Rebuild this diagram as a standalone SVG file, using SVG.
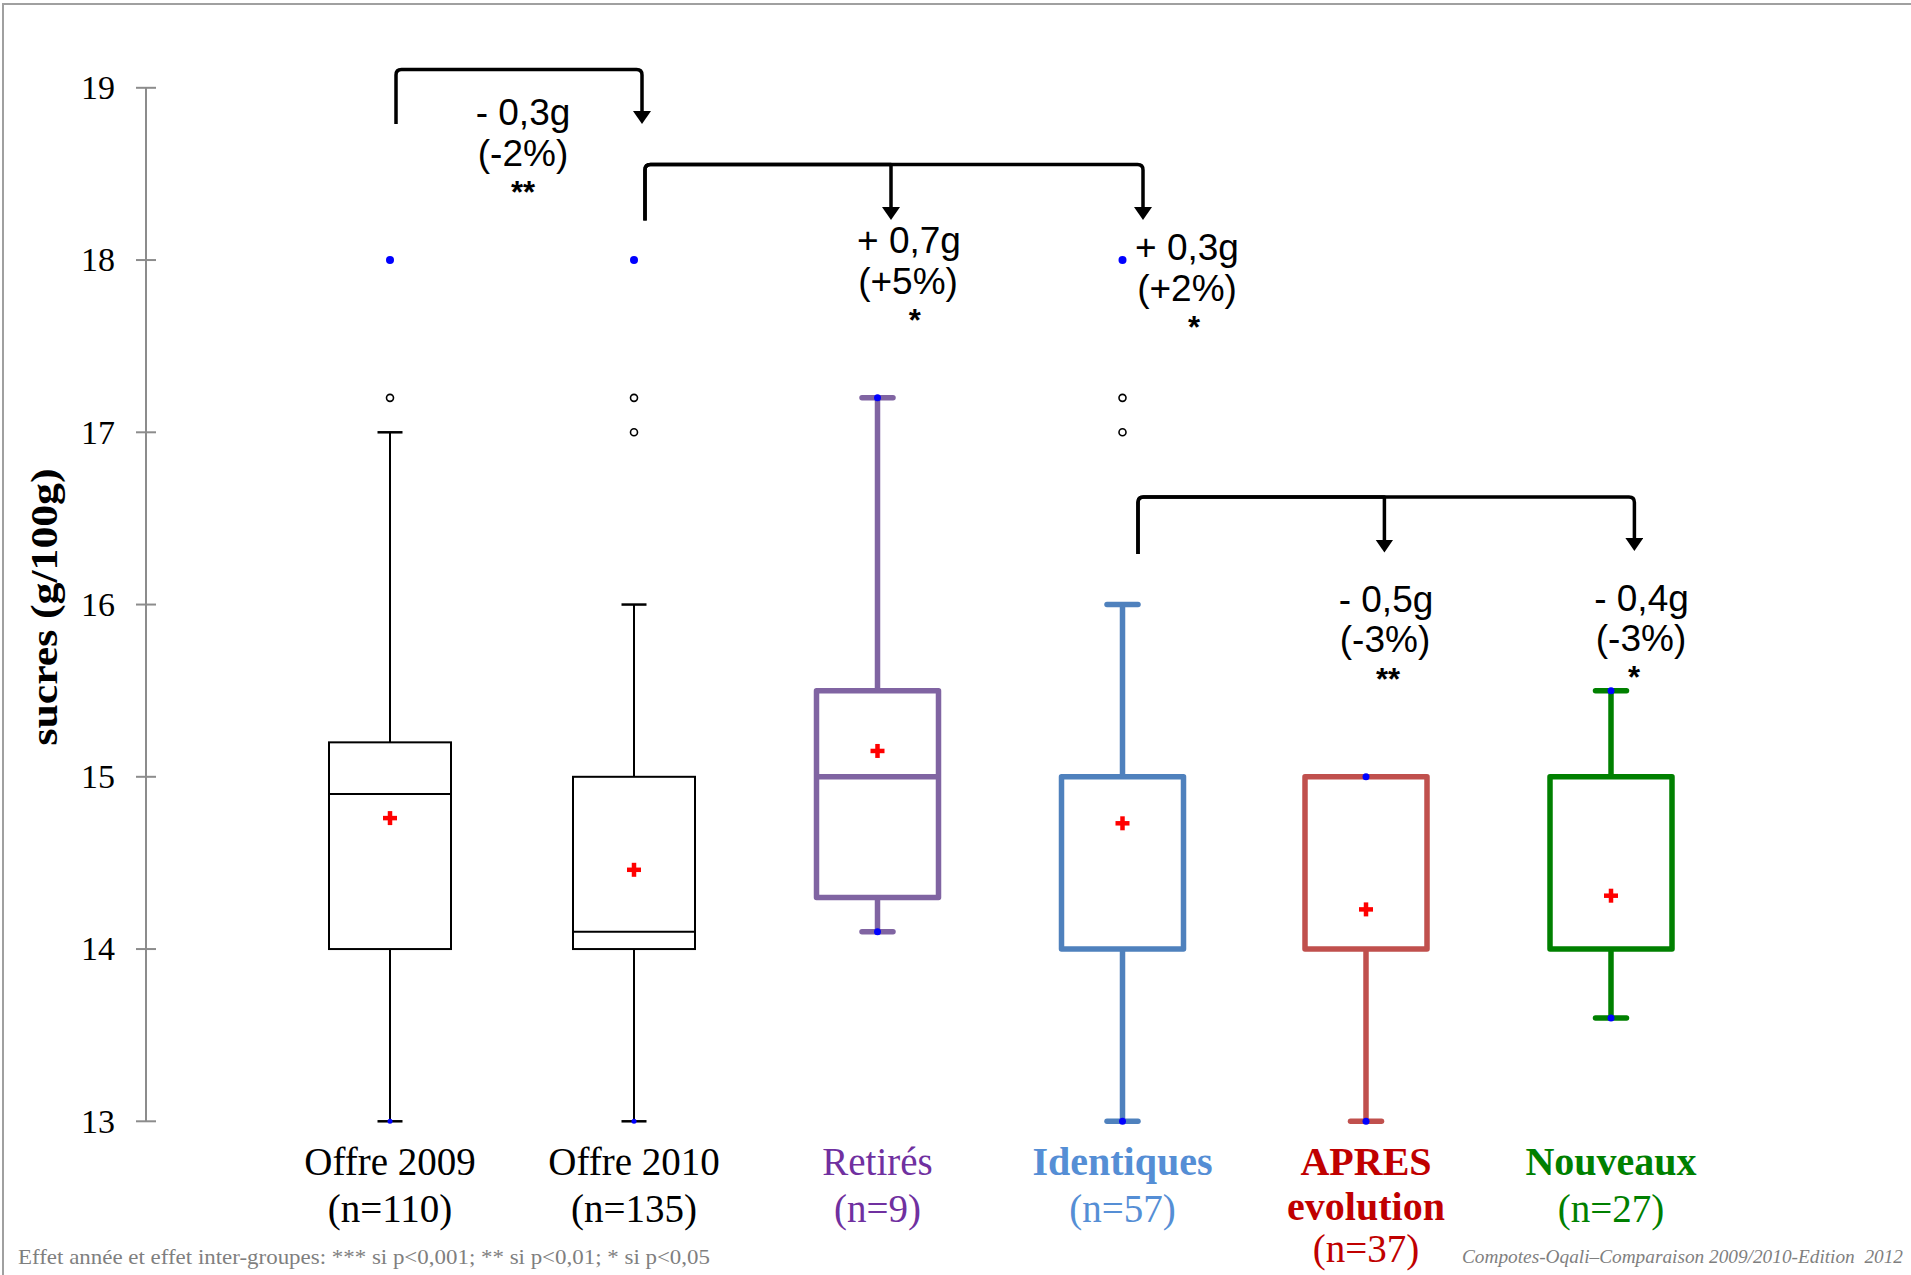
<svg xmlns="http://www.w3.org/2000/svg" width="1911" height="1275" viewBox="0 0 1911 1275">
<style>
.tick{font-family:"Liberation Serif","Times New Roman",serif;font-size:34px;fill:#000;text-anchor:end}
.cat{font-family:"Liberation Serif","Times New Roman",serif;font-size:39px;text-anchor:middle}
.catb{font-family:"Liberation Serif","Times New Roman",serif;font-size:40px;font-weight:bold;text-anchor:middle}
.ann{font-family:"Liberation Sans",Arial,sans-serif;font-size:37px;fill:#000;text-anchor:middle}
.ast{font-family:"Liberation Sans",Arial,sans-serif;font-size:31px;font-weight:bold;fill:#000;text-anchor:middle}
.blk rect,.blk line{stroke:#000;stroke-width:2;fill:none}
.col rect,.col line{stroke-width:5.5;fill:none;stroke-linejoin:round}
.col line.cap{stroke-linecap:round}
.mean{stroke:#FF0000;stroke-width:4.5}
.bd{fill:#0000FF}
.oc{fill:#fff;stroke:#000;stroke-width:1.6}
.conn path{fill:none;stroke:#000;stroke-width:3.5;stroke-linejoin:round}
</style>
<defs>
<marker id="ah" markerUnits="userSpaceOnUse" markerWidth="14" markerHeight="18" refX="4" refY="9" orient="auto" viewBox="0 0 14 18">
<path d="M0,0 L13,9 L0,18 z" fill="#000"/>
</marker>
<g id="plus"><line class="mean" x1="-7" y1="0" x2="7" y2="0"/><line class="mean" x1="0" y1="-7" x2="0" y2="7"/></g>
</defs>
<rect width="1911" height="1275" fill="#fff"/>
<g id="frame" stroke="#A0A0A0" stroke-width="2" fill="none">
<path d="M3,1275 V4 H1911"/>
</g>
<g id="axis">
<line x1="146" y1="87.8" x2="146" y2="1121.3" stroke="#8C8C8C" stroke-width="2"/>
<g stroke="#8C8C8C" stroke-width="2">
<line x1="136" y1="87.8" x2="156" y2="87.8"/>
<line x1="136" y1="260.05" x2="156" y2="260.05"/>
<line x1="136" y1="432.3" x2="156" y2="432.3"/>
<line x1="136" y1="604.55" x2="156" y2="604.55"/>
<line x1="136" y1="776.8" x2="156" y2="776.8"/>
<line x1="136" y1="949.05" x2="156" y2="949.05"/>
<line x1="136" y1="1121.3" x2="156" y2="1121.3"/>
</g>
<text class="tick" x="115" y="99">19</text>
<text class="tick" x="115" y="271">18</text>
<text class="tick" x="115" y="443.5">17</text>
<text class="tick" x="115" y="615.5">16</text>
<text class="tick" x="115" y="788">15</text>
<text class="tick" x="115" y="960">14</text>
<text class="tick" x="115" y="1132.5">13</text>
<text x="0" y="0" transform="translate(57,607) rotate(-90)" font-family="Liberation Serif, Times New Roman, serif" font-size="38" font-weight="bold" text-anchor="middle" textLength="277" lengthAdjust="spacingAndGlyphs">sucres (g/100g)</text>
</g>

<g id="box-offre2009" class="blk">
<line x1="390" y1="742.35" x2="390" y2="432.3"/>
<line x1="377.5" y1="432.3" x2="402.5" y2="432.3" style="stroke-width:2.5"/>
<line x1="390" y1="949.05" x2="390" y2="1121.3"/>
<line x1="377.5" y1="1121.3" x2="402.5" y2="1121.3" style="stroke-width:2.5"/>
<rect x="329" y="742.35" width="122" height="206.7"/>
<line x1="329" y1="794" x2="451" y2="794"/>
<use href="#plus" x="390" y="818.1"/>
<circle class="oc" cx="390" cy="397.85" r="3.5"/>
<circle class="bd" cx="390" cy="260.05" r="4"/>
<circle class="bd" cx="390" cy="1121.3" r="2.5"/>
</g>

<g id="box-offre2010" class="blk">
<line x1="634" y1="776.8" x2="634" y2="604.55"/>
<line x1="621.5" y1="604.55" x2="646.5" y2="604.55" style="stroke-width:2.5"/>
<line x1="634" y1="949.05" x2="634" y2="1121.3"/>
<line x1="621.5" y1="1121.3" x2="646.5" y2="1121.3" style="stroke-width:2.5"/>
<rect x="573" y="776.8" width="122" height="172.25"/>
<line x1="573" y1="931.8" x2="695" y2="931.8"/>
<use href="#plus" x="634" y="869.8"/>
<circle class="oc" cx="634" cy="397.85" r="3.5"/>
<circle class="oc" cx="634" cy="432.3" r="3.5"/>
<circle class="bd" cx="634" cy="260.05" r="4"/>
<circle class="bd" cx="634" cy="1121.3" r="2.5"/>
</g>

<g id="box-retires" class="col">
<line x1="877.5" y1="690.7" x2="877.5" y2="397.85" stroke="#8064A2"/>
<line class="cap" x1="862" y1="397.85" x2="893" y2="397.85" stroke="#8064A2"/>
<line x1="877.5" y1="897.4" x2="877.5" y2="931.8" stroke="#8064A2"/>
<line class="cap" x1="862" y1="931.8" x2="893" y2="931.8" stroke="#8064A2"/>
<rect x="816.5" y="690.7" width="122" height="206.7" stroke="#8064A2"/>
<line x1="816.5" y1="776.8" x2="938.5" y2="776.8" stroke="#8064A2"/>
<use href="#plus" x="877.5" y="750.96"/>
<circle class="bd" cx="877.5" cy="397.85" r="3.5"/>
<circle class="bd" cx="877.5" cy="931.8" r="3.5"/>
</g>

<g id="box-identiques" class="col">
<line x1="1122.5" y1="776.8" x2="1122.5" y2="604.55" stroke="#4F81BD"/>
<line class="cap" x1="1107" y1="604.55" x2="1138" y2="604.55" stroke="#4F81BD"/>
<line x1="1122.5" y1="949.05" x2="1122.5" y2="1121.3" stroke="#4F81BD"/>
<line class="cap" x1="1107" y1="1121.3" x2="1138" y2="1121.3" stroke="#4F81BD"/>
<rect x="1061.5" y="776.8" width="122" height="172.25" stroke="#4F81BD"/>
<use href="#plus" x="1122.5" y="823.3"/>
<circle class="oc" cx="1122.5" cy="397.85" r="3.5"/>
<circle class="oc" cx="1122.5" cy="432.3" r="3.5"/>
<circle class="bd" cx="1122.5" cy="260.05" r="4"/>
<circle class="bd" cx="1122.5" cy="1121.3" r="3.5"/>
</g>

<g id="box-apres" class="col">
<line x1="1366" y1="949.05" x2="1366" y2="1121.3" stroke="#C0504D"/>
<line class="cap" x1="1350.5" y1="1121.3" x2="1381.5" y2="1121.3" stroke="#C0504D"/>
<rect x="1305" y="776.8" width="122" height="172.25" stroke="#C0504D"/>
<use href="#plus" x="1366" y="909.4"/>
<circle class="bd" cx="1366" cy="776.8" r="3.5"/>
<circle class="bd" cx="1366" cy="1121.3" r="3.5"/>
</g>

<g id="box-nouveaux" class="col">
<line x1="1611" y1="776.8" x2="1611" y2="690.7" stroke="#008000"/>
<line class="cap" x1="1595.5" y1="690.7" x2="1626.5" y2="690.7" stroke="#008000"/>
<line x1="1611" y1="949.05" x2="1611" y2="1017.95" stroke="#008000"/>
<line class="cap" x1="1595.5" y1="1017.95" x2="1626.5" y2="1017.95" stroke="#008000"/>
<rect x="1550" y="776.8" width="122" height="172.25" stroke="#008000"/>
<use href="#plus" x="1611" y="895.7"/>
<circle class="bd" cx="1611" cy="690.7" r="3.5"/>
<circle class="bd" cx="1611" cy="1017.95" r="3.5"/>
</g>

<g id="connectors" class="conn">
<path d="M396,124 V75 Q396,69.5 401.5,69.5 H636.5 Q642,69.5 642,75 V115" marker-end="url(#ah)"/>
<path d="M645,220.6 V170 Q645,164.5 650.5,164.5 H891 V211" marker-end="url(#ah)"/>
<path d="M645,220.6 V170 Q645,164.5 650.5,164.5 H1137.5 Q1143,164.5 1143,170 V211" marker-end="url(#ah)"/>
<path d="M1138,554 V502.5 Q1138,497 1143.5,497 H1384.4 V543.5" marker-end="url(#ah)"/>
<path d="M1138,554 V502.5 Q1138,497 1143.5,497 H1629 Q1634.4,497 1634.4,502.5 V542" marker-end="url(#ah)"/>
</g>

<g id="annotations">
<text class="ann" x="523" y="125">- 0,3g</text>
<text class="ann" x="523" y="166">(-2%)</text>
<text class="ast" x="523" y="203">**</text>
<text class="ann" x="909" y="253">+ 0,7g</text>
<text class="ann" x="908" y="294">(+5%)</text>
<text class="ast" x="914.7" y="331">*</text>
<text class="ann" x="1187" y="260">+ 0,3g</text>
<text class="ann" x="1187" y="301">(+2%)</text>
<text class="ast" x="1194" y="338">*</text>
<text class="ann" x="1386" y="612">- 0,5g</text>
<text class="ann" x="1385" y="652">(-3%)</text>
<text class="ast" x="1388" y="690">**</text>
<text class="ann" x="1641.5" y="611">- 0,4g</text>
<text class="ann" x="1641" y="651">(-3%)</text>
<text class="ast" x="1634" y="688">*</text>
</g>

<g id="labels">
<text class="cat" x="390" y="1175" fill="#000">Offre 2009</text>
<text class="cat" x="390" y="1222" fill="#000">(n=110)</text>
<text class="cat" x="634" y="1175" fill="#000">Offre 2010</text>
<text class="cat" x="634" y="1222" fill="#000">(n=135)</text>
<text class="cat" x="877.5" y="1175" fill="#7030A0">Retirés</text>
<text class="cat" x="877.5" y="1222" fill="#7030A0">(n=9)</text>
<text class="catb" x="1122.5" y="1175" fill="#558ED5">Identiques</text>
<text class="cat" x="1122.5" y="1222" fill="#558ED5">(n=57)</text>
<text class="catb" x="1366" y="1175" fill="#C00000">APRES</text>
<text class="catb" x="1366" y="1220" fill="#C00000">evolution</text>
<text class="cat" x="1366" y="1262" fill="#C00000" font-size="38">(n=37)</text>
<text class="catb" x="1611" y="1175" fill="#008000">Nouveaux</text>
<text class="cat" x="1611" y="1222" fill="#008000">(n=27)</text>
</g>

<g id="footnotes" font-family="Liberation Serif, Times New Roman, serif" fill="#7F7F7F">
<text x="18" y="1264" font-size="22" textLength="692" lengthAdjust="spacingAndGlyphs">Effet année et effet inter-groupes: *** si p&lt;0,001; ** si p&lt;0,01; * si p&lt;0,05</text>
<text x="1462" y="1263" font-size="19" font-style="italic" xml:space="preserve" textLength="441" lengthAdjust="spacingAndGlyphs">Compotes-Oqali–Comparaison 2009/2010-Edition  2012</text>
</g>
</svg>
